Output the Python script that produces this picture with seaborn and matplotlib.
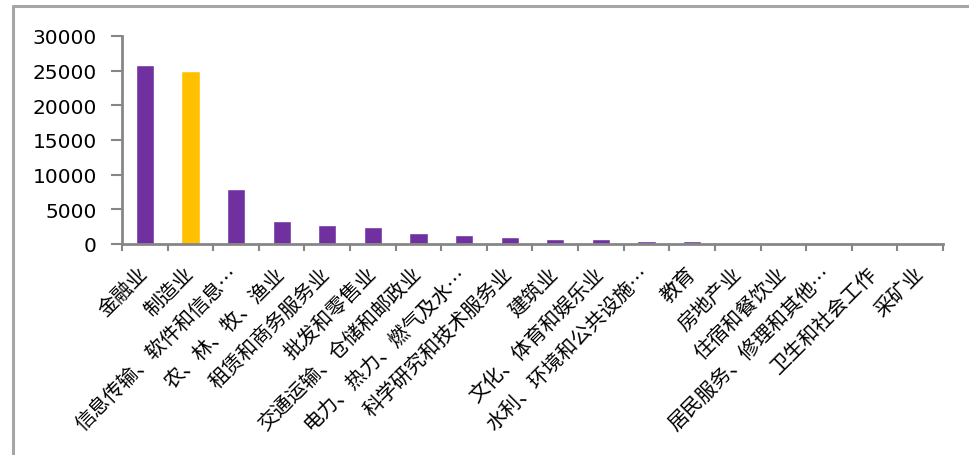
import matplotlib
matplotlib.use("Agg")
import matplotlib.pyplot as plt
import seaborn as sns
import pandas as pd
from matplotlib.lines import Line2D
from matplotlib.ticker import FixedLocator

categories = ["金融业", "制造业", "信息传输、软件和信息…", "农、林、牧、渔业", "租赁和商务服务业",
              "批发和零售业", "交通运输、仓储和邮政业", "电力、热力、燃气及水…", "科学研究和技术服务业",
              "建筑业", "文化、体育和娱乐业", "水利、环境和公共设施…", "教育", "房地产业",
              "住宿和餐饮业", "居民服务、修理和其他…", "卫生和社会工作", "采矿业"]
values = [25800, 24900, 7900, 3350, 2750, 2450, 1550, 1300, 1000,
          700, 700, 400, 400, 0, 0, 0, 0, 0]
highlight = "制造业"
yticks = [0, 5000, 10000, 15000, 20000, 25000, 30000]

PURPLE = "#7030A0"
YELLOW = "#FFC000"
GRAY = "#868686"

sns.set_theme(style="white")
plt.rcParams["font.family"] = ["DejaVu Sans"]

df = pd.DataFrame({"cat": categories, "val": values})
palette = {c: (YELLOW if c == highlight else PURPLE) for c in categories}

fig = plt.figure(figsize=(9.70, 4.56), dpi=100)
ax = fig.add_axes([122/970, 1-245/456, (943-122)/970, (245-37)/456])
sns.barplot(data=df, x="cat", y="val", hue="cat", palette=palette, width=0.4,
            legend=False, ax=ax, saturation=1)

ax.set_ylim(0, 30000)
ax.set_xlim(-0.5, len(categories) - 0.5)
ax.set_yticks(yticks)
ax.set_yticklabels([str(v) for v in yticks], fontsize=14.5, color="black")
ax.set_xlabel("")
ax.set_ylabel("")

# category labels at centres, tick marks at boundaries
ax.set_xticks(range(len(categories)))
ax.set_xticklabels(categories, rotation=45, ha="right", va="center",
                   rotation_mode="anchor", fontsize=14.5,
                   family=["Noto Sans CJK SC", "DejaVu Sans"], color="black")
ax.tick_params(axis="x", which="major", length=0, pad=19)
ax.xaxis.set_minor_locator(FixedLocator([i - 0.5 for i in range(len(categories) + 1)]))
ax.tick_params(axis="x", which="minor", length=5, width=1.5, color=GRAY, direction="out", bottom=True)
ax.tick_params(axis="y", which="major", length=8, width=1.5, color=GRAY, direction="out", left=True, pad=10)

for s in ["top", "right"]:
    ax.spines[s].set_visible(False)
for s in ["left", "bottom"]:
    ax.spines[s].set_color(GRAY)
    ax.spines[s].set_linewidth(2)

# outer frame (top and left)
fig.add_artist(Line2D([13/970, 1], [1-6.5/456, 1-6.5/456], transform=fig.transFigure,
                      color="#a6a6a6", lw=2.2))
fig.add_artist(Line2D([13/970, 13/970], [0, 1-6.5/456], transform=fig.transFigure,
                      color="#a6a6a6", lw=2.2))

fig.savefig("out.png", dpi=100)
